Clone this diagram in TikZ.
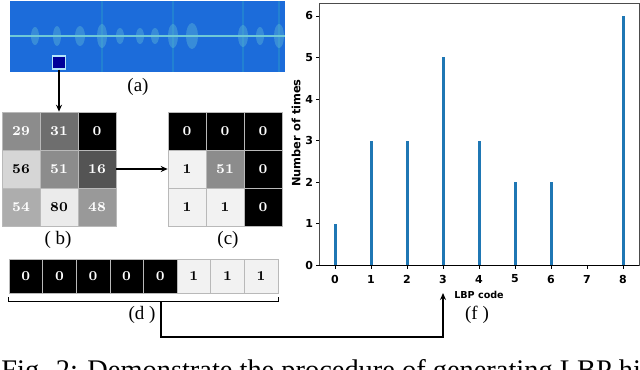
\documentclass[tikz,border=0pt]{standalone}
\usepackage{fontspec}
\newfontfamily\capfont{Liberation Serif}
\newfontfamily\plotfont{DejaVu Sans}
\usetikzlibrary{arrows.meta}
\definecolor{specblue}{RGB}{28,108,218}
\definecolor{barblue}{RGB}{31,119,180}
\definecolor{ridgecol}{RGB}{110,200,215}
\begin{document}
\begin{tikzpicture}[x=0.5pt,y=-0.5pt,
			cell/.style={draw=gray!55, line width=0.3pt, minimum width=19pt, minimum height=19pt, inner sep=0pt, font=\fontsize{6.8}{7}\selectfont\bfseries},
			bit/.style={cell, minimum width=16.8pt, minimum height=17pt},
			lbl/.style={font=\capfont\fontsize{9.5}{10}\selectfont},
			conn/.style={line width=0.6pt, -{Stealth[length=3.5pt,width=3pt]}},
			tlab/.style={font=\plotfont\bfseries\fontsize{5.5}{6}\selectfont, inner sep=0pt},
			streak/.style={cyan!50!specblue, line width=1.2pt, opacity=0.6},
			spot/.style={fill=ridgecol, opacity=0.35}]
			\useasboundingbox (0,0) rectangle (640,369);
			%---------------- (a) ----------------
			\fill[specblue] (10,1) rectangle (285,72);
			\draw[streak] (102,1) -- (102,72);
			\draw[streak] (173,1) -- (173,72);
			\draw[streak] (243,1) -- (243,72);
			\draw[streak] (279,1) -- (279,72);
			\fill[spot] (35,36) ellipse (4 and 9);
			\fill[spot] (57,36) ellipse (4 and 10);
			\fill[spot] (80,36) ellipse (5 and 10);
			\fill[spot] (102,36) ellipse (5 and 12);
			\fill[spot] (120,36) ellipse (4 and 8);
			\fill[spot] (140,36) ellipse (4 and 8);
			\fill[spot] (155,36) ellipse (4 and 8);
			\fill[spot] (173,36) ellipse (5 and 12);
			\fill[spot] (192,36) ellipse (6 and 13);
			\fill[spot] (243,36) ellipse (5 and 11);
			\fill[spot] (260,36) ellipse (4 and 9);
			\fill[spot] (279,36) ellipse (5 and 12);
			\draw[ridgecol, line width=0.8pt] (10,36) -- (285,36);
			\node[draw=cyan!30, line width=0.6pt, fill=blue!60!black, minimum size=6.5pt, inner sep=0pt] (patch) at (59,62.5) {};
			\node[lbl] (la) at (138,87) {(a)};
			%---------------- (b) ----------------
			\node[cell, fill=black!45, text=white] (b11) at (21,131) {29};
			\node[cell, fill=black!57, text=white] (b12) at (59,131) {31};
			\node[cell, fill=black, text=white] (b13) at (97,131) {0};
			\node[cell, fill=black!16] (b21) at (21,169) {56};
			\node[cell, fill=black!45, text=white] (b22) at (59,169) {51};
			\node[cell, fill=black!67, text=white] (b23) at (97,169) {16};
			\node[cell, fill=black!32, text=white] (b31) at (21,207) {54};
			\node[cell, fill=black!8] (b32) at (59,207) {80};
			\node[cell, fill=black!40, text=white] (b33) at (97,207) {48};
			\node[lbl] (lb) at (58,240) {( b)};
			%---------------- (c) ----------------
			\node[cell, fill=black, text=white] (c11) at (187,131) {0};
			\node[cell, fill=black, text=white] (c12) at (225,131) {0};
			\node[cell, fill=black, text=white] (c13) at (263,131) {0};
			\node[cell, fill=black!5] (c21) at (187,169) {1};
			\node[cell, fill=black!45, text=white] (c22) at (225,169) {51};
			\node[cell, fill=black, text=white] (c23) at (263,169) {0};
			\node[cell, fill=black!5] (c31) at (187,207) {1};
			\node[cell, fill=black!5] (c32) at (225,207) {1};
			\node[cell, fill=black, text=white] (c33) at (263,207) {0};
			\node[lbl] (lc) at (228,240) {(c)};
			\draw[conn] (patch.south) -- (b12.north);
			\draw[conn] (b23.east) -- (c21.west);
			%---------------- (d) ----------------
			\node[bit, fill=black, text=white] (d1) at (25.8,276) {0};
			\node[bit, fill=black, text=white] (d2) at (59.4,276) {0};
			\node[bit, fill=black, text=white] (d3) at (93,276) {0};
			\node[bit, fill=black, text=white] (d4) at (126.6,276) {0};
			\node[bit, fill=black, text=white] (d5) at (160.2,276) {0};
			\node[bit, fill=black!5] (d6) at (193.8,276) {1};
			\node[bit, fill=black!5] (d7) at (227.4,276) {1};
			\node[bit, fill=black!5] (d8) at (261,276) {1};
			\draw[line width=0.6pt] ([yshift=-2pt]d1.south west) -- ([yshift=-4pt]d1.south west) -- ([yshift=-4pt]d8.south east) -- ([yshift=-2pt]d8.south east);
			\node[lbl] (ld) at (142,315) {(d )};
			\coordinate (dmid) at (161,301);
			\coordinate (turn) at (161,337);
			\coordinate (fin) at (443,293);
			\draw[conn] (dmid) -- (turn) -| (fin);
			%---------------- (f) ----------------
			\fill[barblue] (333.5,265) rectangle (336.5,223.5);
			\fill[barblue] (369.5,265) rectangle (372.5,140.5);
			\fill[barblue] (405.5,265) rectangle (408.5,140.5);
			\fill[barblue] (441.5,265) rectangle (444.5,57.5);
			\fill[barblue] (477.5,265) rectangle (480.5,140.5);
			\fill[barblue] (513.5,265) rectangle (516.5,182);
			\fill[barblue] (549.5,265) rectangle (552.5,182);
			\fill[barblue] (621.5,265) rectangle (624.5,16);
			\draw[black!70, line width=0.4pt] (319,3) rectangle (639,265);
			\draw[line width=0.5pt] (319,265) -- (639,265);
			\draw[line width=0.4pt] (319,265) -- (315.5,265) (319,223.5) -- (315.5,223.5) (319,182) -- (315.5,182) (319,140.5) -- (315.5,140.5) (319,99) -- (315.5,99) (319,57.5) -- (315.5,57.5) (319,16) -- (315.5,16);
			\draw[line width=0.4pt] (335,265) -- (335,268.5) (371,265) -- (371,268.5) (407,265) -- (407,268.5) (443,265) -- (443,268.5) (479,265) -- (479,268.5) (515,265) -- (515,268.5) (551,265) -- (551,268.5) (587,265) -- (587,268.5) (623,265) -- (623,268.5);
			\node[tlab, anchor=east] (y0) at (313.5,265) {0};
			\node[tlab, anchor=east] (y1) at (313.5,223.5) {1};
			\node[tlab, anchor=east] (y2) at (313.5,182) {2};
			\node[tlab, anchor=east] (y3) at (313.5,140.5) {3};
			\node[tlab, anchor=east] (y4) at (313.5,99) {4};
			\node[tlab, anchor=east] (y5) at (313.5,57.5) {5};
			\node[tlab, anchor=east] (y6) at (313.5,16) {6};
			\node[tlab] (x0) at (335,279) {0};
			\node[tlab] (x1) at (371,279) {1};
			\node[tlab] (x2) at (407,279) {2};
			\node[tlab] (x3) at (443,279) {3};
			\node[tlab] (x4) at (479,279) {4};
			\node[tlab] (x5) at (515,279) {5};
			\node[tlab] (x6) at (551,279) {6};
			\node[tlab] (x7) at (587,279) {7};
			\node[tlab] (x8) at (623,279) {8};
			\node[tlab, font=\plotfont\bfseries\fontsize{5.7}{6}\selectfont, rotate=90] (ytitle) at (296,133) {Number of times};
			\node[tlab, font=\plotfont\bfseries\fontsize{4.8}{6}\selectfont] (xtitle) at (479,295) {LBP code};
			\node[lbl] (lf) at (477,315) {(f )};
			%---------------- caption ----------------
			\node[font=\capfont\fontsize{14.2}{16}\selectfont, anchor=base west, inner sep=0pt] (cap) at (1,379) {Fig. 2: Demonstrate the procedure of generating LBP histogram};
		\end{tikzpicture}
\end{document}
